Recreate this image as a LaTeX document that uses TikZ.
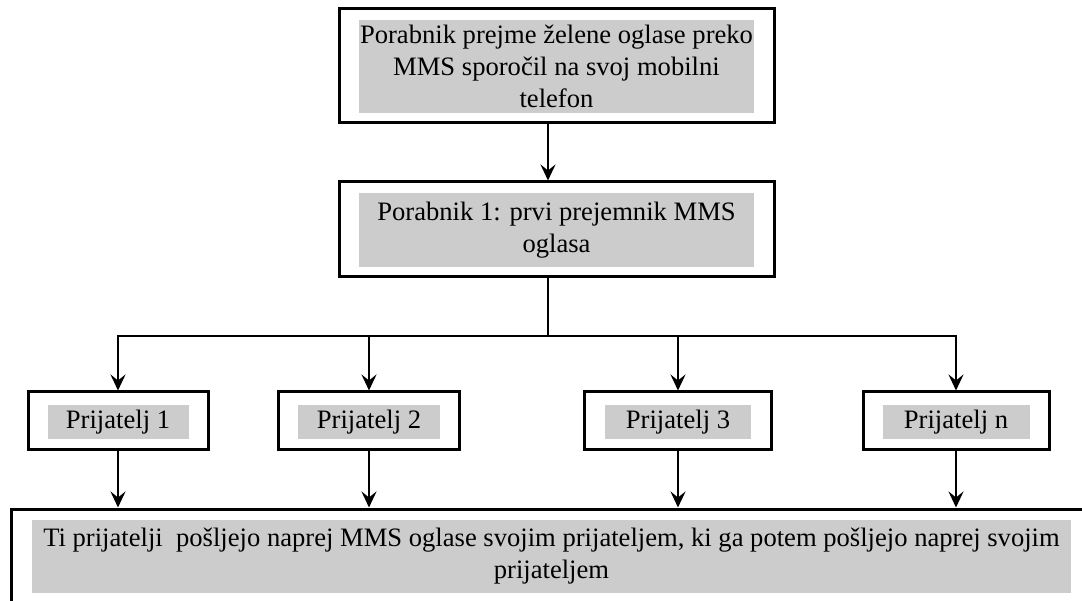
\documentclass[tikz,border=0pt]{standalone}
\usepackage{fontspec}
\setmainfont{Liberation Serif}
\usetikzlibrary{arrows.meta}
\definecolor{boxgray}{RGB}{204,204,204}

\begin{document}
\begin{tikzpicture}[x=1pt,y=-1pt,
		frame/.style={draw,line width=3pt,fill=white,inner sep=0pt},
		shade/.style={fill=boxgray,inner sep=0pt,align=center,font=\fontsize{26.6}{32}\selectfont},
		link/.style={line width=2.4pt,-{Stealth[length=16pt,width=15pt,inset=6pt]}}]
			\useasboundingbox (0,0) rectangle (1082,601);
			% the sender
			\node[frame,minimum width=435pt,minimum height=114pt] (send) at (556.5,66) {};
			\node[shade,minimum width=395pt,minimum height=93pt] (sendtxt) at (556.5,66.5) {Porabnik prejme želene oglase preko\\MMS sporočil na svoj mobilni\\telefon};
			% the first receiver
			\node[frame,minimum width=435pt,minimum height=95pt] (first) at (556.5,229.5) {};
			\node[shade,minimum width=395pt,minimum height=74pt] (firsttxt) at (556.5,230) {Porabnik 1: prvi prejemnik MMS\\oglasa};
			% the friends
			\node[frame,minimum width=180pt,minimum height=58pt] (f1) at (118,421) {};
			\node[shade,minimum width=141pt,minimum height=34pt] (f1txt) at (118,422) {Prijatelj 1};
			\node[frame,minimum width=181pt,minimum height=58pt] (f2) at (369,421) {};
			\node[shade,minimum width=142pt,minimum height=34pt] (f2txt) at (369,422) {Prijatelj 2};
			\node[frame,minimum width=187pt,minimum height=58pt] (f3) at (678,421) {};
			\node[shade,minimum width=146pt,minimum height=34pt] (f3txt) at (678,422) {Prijatelj 3};
			\node[frame,minimum width=186pt,minimum height=58pt] (fn) at (956,421) {};
			\node[shade,minimum width=147pt,minimum height=34pt] (fntxt) at (956,422) {Prijatelj n};
			% their friends
			\node[frame,minimum width=1100pt,minimum height=120pt] (all) at (561,569) {};
			\node[shade,minimum width=1039pt,minimum height=73pt] (alltxt) at (551.5,556.5) {Ti prijatelji~ pošljejo naprej MMS oglase svojim prijateljem, ki ga potem pošljejo naprej svojim\\prijateljem};
			% connectors
			\coordinate (spine) at (548,0);
			\coordinate (bar) at (0,336);
			\draw[link] (send.south -| spine) -- (first.north -| spine);
			\draw[line width=2.4pt] (first.south -| spine) -- (spine |- bar);
			\draw[link] (spine |- bar) -| (f1.north);
			\draw[link] (spine |- bar) -| (fn.north);
			\draw[link] (f2 |- bar) -- (f2.north);
			\draw[link] (f3 |- bar) -- (f3.north);
			\foreach \f in {f1,f2,f3,fn}
				\draw[link] (\f.south) -- (\f.south |- all.north);
		\end{tikzpicture}
\end{document}
